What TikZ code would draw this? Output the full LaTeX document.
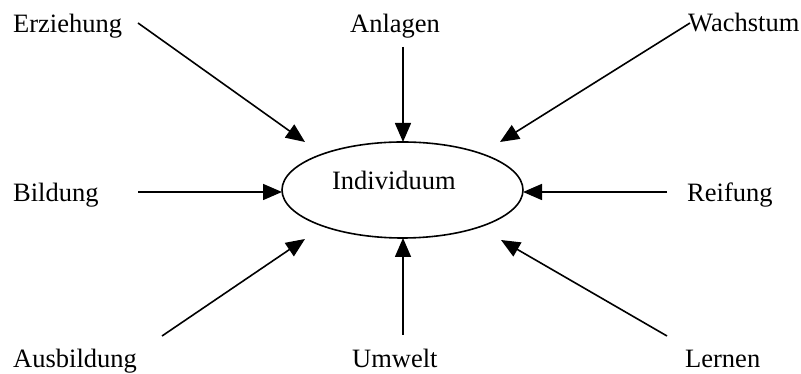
\documentclass[tikz,border=0pt]{standalone}
\usepackage{fontspec}
\setmainfont{Liberation Serif}
\usetikzlibrary{arrows.meta,shapes.geometric}
\begin{document}
\begin{tikzpicture}[x=1pt,y=1pt,
  lbl/.style={anchor=base west,inner sep=0pt,font=\fontsize{26.5}{31}\selectfont},
  arr/.style={line width=1.6pt,-{Triangle[length=19pt,width=16pt]}}]
\useasboundingbox (0,0) rectangle (801,374);
% centre
\node[draw,ellipse,line width=1.6pt,inner sep=0pt,minimum width=241pt,minimum height=96pt] (ind) at (402.5,184) {};
\node[anchor=base,inner sep=0pt,font=\fontsize{26.5}{31}\selectfont] (indtxt) at (394,184) {Individuum};
% labels
\node[lbl] (erz) at (13,341) {Erziehung};
\node[lbl] (anl) at (350,341) {Anlagen};
\node[lbl] (wac) at (688,342) {Wachstum};
\node[lbl] (bil) at (13,172) {Bildung};
\node[lbl] (rei) at (687,172) {Reifung};
\node[lbl] (aus) at (13,6) {Ausbildung};
\node[lbl] (umw) at (352,6) {Umwelt};
\node[lbl] (ler) at (685,6) {Lernen};
% arrow ends
\coordinate (s1) at (138,351); \coordinate (t1) at (305,232);
\coordinate (s2) at (403,327); \coordinate (t2) at (403,232);
\coordinate (s3) at (690,351); \coordinate (t3) at (500,232);
\coordinate (s4) at (138,182); \coordinate (t4) at (282,182);
\coordinate (s5) at (667,182); \coordinate (t5) at (523,182);
\coordinate (s6) at (162,38);  \coordinate (t6) at (305,135);
\coordinate (s7) at (403,39);  \coordinate (t7) at (403,136);
\coordinate (s8) at (667,38);  \coordinate (t8) at (501,134);
\foreach \i in {1,...,8} { \draw[arr] (s\i) -- (t\i); }
\end{tikzpicture}
\end{document}
